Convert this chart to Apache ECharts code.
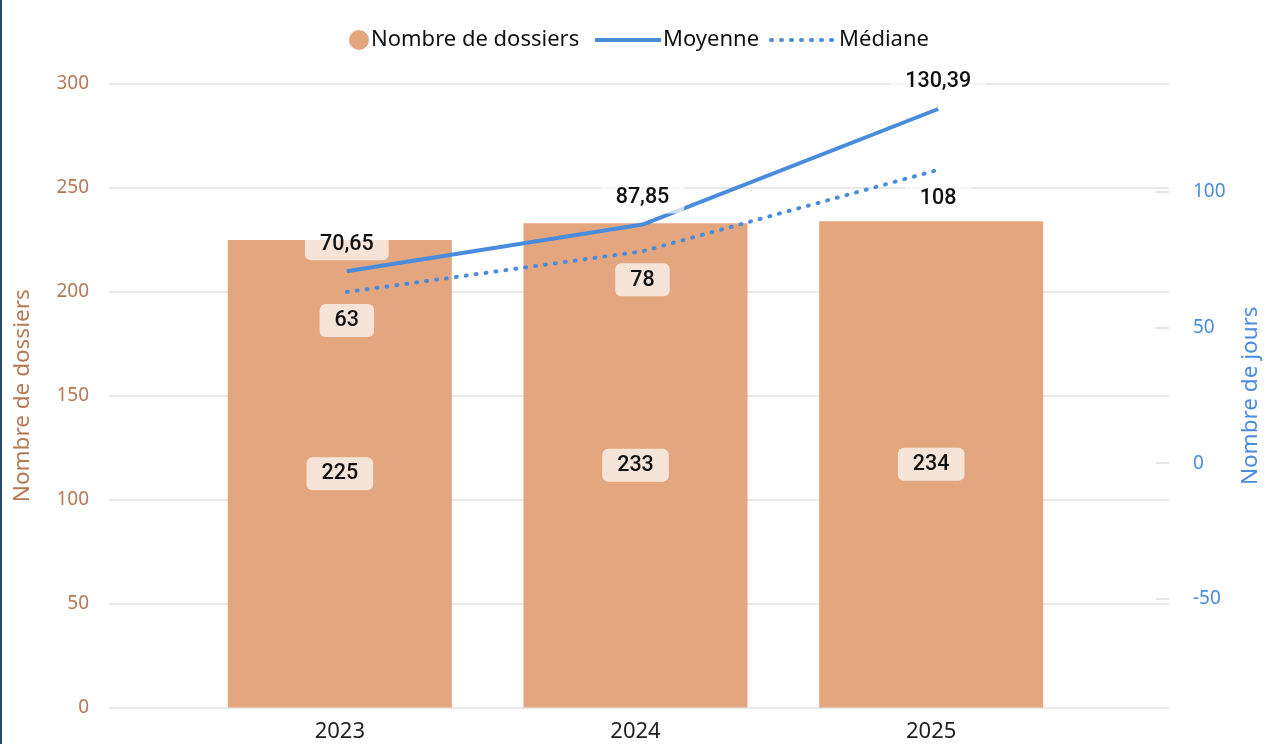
<!DOCTYPE html>
<html>
<head>
<meta charset="utf-8">
<title>Dossiers</title>
<script src="https://cdn.jsdelivr.net/npm/echarts@6/dist/echarts.min.js"></script>
<style>
  html, body { margin: 0; padding: 0; background: #fff; }
  #chart { width: 1270px; height: 744px; box-sizing: border-box; border-left: 2px solid #234A73; }
</style>
</head>
<body>
<div id="chart"></div>
<script>
  // données
  const annees = ['2023', '2024', '2025'];
  const nbDossiers = [225, 233, 234];
  const moyenne = [70.65, 87.85, 130.39];
  const mediane = [63, 78, 108];
  const ticksJours = [-50, 0, 50, 100];

  const BAR_COLOR = '#E4A67F';
  const LINE_COLOR = '#4A8CDC';
  const fmt = v => String(v).replace('.', ',');

  const labelBox = {
    show: true,
    color: '#111',
    fontFamily: 'Roboto',
    fontWeight: 500,
    fontSize: 21.5,
    lineHeight: 18,
    backgroundColor: 'rgba(255,255,255,0.7)',
    borderRadius: 6,
    padding: [8, 15, 7, 15]
  };

  const chart = echarts.init(document.getElementById('chart'));
  chart.setOption({
    animation: false,
    textStyle: { fontFamily: 'Noto Sans' },
    legend: [
      {
        top: 29, left: 347, padding: 0,
        itemWidth: 20, itemHeight: 20,
        textStyle: { fontSize: 22, color: '#111', padding: [0, 0, 0, -3] },
        data: [{ name: 'Nombre de dossiers', icon: 'circle', itemStyle: { color: BAR_COLOR } }]
      },
      {
        top: 29, left: 591, padding: 0,
        itemGap: 10,
        itemWidth: 66, itemHeight: 20,
        lineStyle: { width: 4 },
        textStyle: { fontSize: 22, color: '#111', padding: [0, 0, 0, -3] },
        data: [
          { name: 'Moyenne', itemStyle: { opacity: 0 } },
          { name: 'Médiane', itemStyle: { opacity: 0 } }
        ]
      }
    ],
    grid: [
      { left: 107, right: 95, top: 84, bottom: 36.5 },
      { left: 190, right: 191, top: 84, bottom: 36.5 },
      { left: 197, right: 184, top: 84, bottom: 36.5 }
    ],
    xAxis: [
      { gridIndex: 0, type: 'category', data: annees, show: false },
      {
        gridIndex: 1, type: 'category', data: annees,
        axisLine: { show: false }, axisTick: { show: false },
        axisLabel: { fontSize: 22, color: '#222', margin: 13 }
      },
      { gridIndex: 2, type: 'category', data: annees, show: false }
    ],
    yAxis: [
      {
        gridIndex: 0, type: 'value', position: 'left',
        min: 0, max: 300, interval: 50,
        name: 'Nombre de dossiers', nameLocation: 'middle', nameGap: 75,
        nameTextStyle: { fontSize: 22.5, color: '#B37A55' },
        axisLine: { show: false }, axisTick: { show: false },
        axisLabel: { fontSize: 19, color: '#B37A55', margin: 20 },
        splitLine: { lineStyle: { color: '#E8E8E8', width: 2 } }
      },
      {
        gridIndex: 0, type: 'value', position: 'right',
        min: -90, max: 139.6,
        name: 'Nombre de jours', nameLocation: 'middle', nameGap: 70,
        nameTextStyle: { fontSize: 22.5, color: LINE_COLOR },
        axisLine: { show: false },
        axisTick: { show: true, inside: true, length: 13, customValues: ticksJours,
                    lineStyle: { color: '#E6E6E6', width: 2 } },
        axisLabel: { fontSize: 19, color: LINE_COLOR, margin: 24, customValues: ticksJours },
        splitLine: { show: false }
      },
      { gridIndex: 1, type: 'value', min: 0, max: 300, show: false },
      { gridIndex: 2, type: 'value', min: -90, max: 139.6, show: false }
    ],
    series: [
      {
        name: 'Nombre de dossiers',
        type: 'bar',
        xAxisIndex: 1, yAxisIndex: 2,
        barWidth: 224,
        itemStyle: { color: BAR_COLOR },
        data: nbDossiers,
        label: Object.assign({}, labelBox, { position: 'inside' })
      },
      {
        name: 'Moyenne',
        type: 'line',
        xAxisIndex: 2, yAxisIndex: 3,
        symbol: 'circle', symbolSize: 0.1, showSymbol: true,
        itemStyle: { color: LINE_COLOR },
        lineStyle: { width: 4, color: LINE_COLOR },
        data: moyenne,
        label: Object.assign({}, labelBox, { position: 'top', distance: 11, formatter: p => fmt(p.value) })
      },
      {
        name: 'Médiane',
        type: 'line',
        xAxisIndex: 2, yAxisIndex: 3,
        symbol: 'circle', symbolSize: 0.1, showSymbol: true,
        itemStyle: { color: LINE_COLOR },
        lineStyle: { width: 4, color: LINE_COLOR, type: [1, 9], cap: 'round' },
        data: mediane,
        label: Object.assign({}, labelBox, { position: 'bottom', distance: 12, formatter: p => fmt(p.value) })
      }
    ]
  });
</script>
</body>
</html>
